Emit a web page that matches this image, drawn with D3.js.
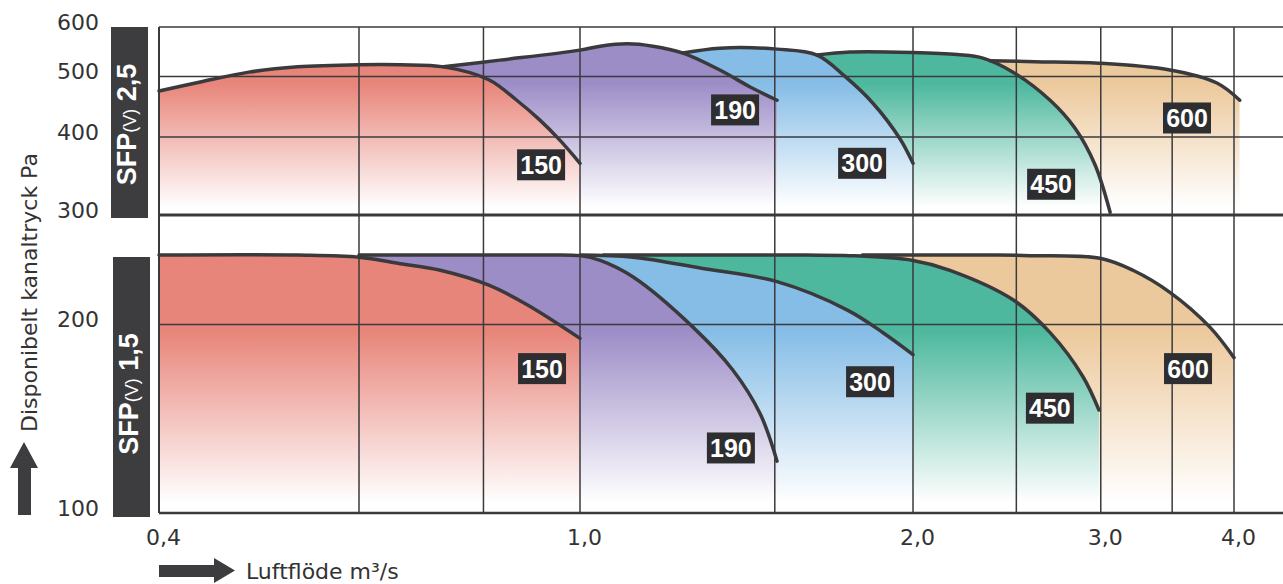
<!DOCTYPE html>
<html>
<head>
<meta charset="utf-8">
<script src="https://cdn.jsdelivr.net/npm/d3@7"></script>
<style>
  body { margin: 0; background: #fff; }
  text { font-family: "DejaVu Sans", sans-serif; }
</style>
</head>
<body>
<div id="chart"></div>
<script>
// fan sizes (curve labels)
var series = ["150", "190", "300", "450", "600"];

// curves: [flow m3/s, pressure Pa]
// upper panel, SFP(v) 2,5
var top150 = [[0.4, 474], [0.435, 490], [0.48, 508], [0.53, 518], [0.6, 522], [0.66, 522], [0.73, 518], [0.81, 494], [0.864, 458], [0.911, 426], [0.955, 395], [1.0, 363]];
var top190 = [[0.729, 518], [0.831, 531], [1.0, 551], [1.043, 559], [1.103, 564], [1.164, 559], [1.239, 545], [1.338, 512], [1.425, 481], [1.507, 458]];
var top300 = [[1.239, 545], [1.338, 555], [1.507, 553], [1.638, 541], [1.736, 500], [1.84, 453], [1.947, 397], [2.0, 363]];
var top450 = [[1.638, 541], [1.754, 547], [2.0, 546], [2.2, 542], [2.326, 535], [2.482, 508], [2.689, 458], [2.838, 413], [2.963, 361], [3.061, 303]];
var top600 = [[2.362, 530], [2.6, 528], [2.988, 525], [3.483, 512], [3.855, 488], [4.05, 458]];

// lower panel, SFP(v) 1,5
var bot150 = [[0.4, 258], [0.53, 258], [0.6, 256], [0.66, 250], [0.724, 244], [0.81, 231], [0.885, 215], [1.0, 190]];
var bot190 = [[0.6, 258], [0.9, 258], [1.0, 257.5], [1.043, 253], [1.117, 238], [1.265, 198], [1.375, 169], [1.455, 144], [1.507, 121]];
var bot300 = [[1.0, 258], [1.117, 256], [1.284, 246], [1.507, 234], [1.743, 211], [1.879, 194], [2.0, 179]];
var bot450 = [[1.05, 258], [1.6, 258], [1.754, 257.5], [2.0, 253], [2.166, 244], [2.482, 219], [2.689, 194], [2.887, 165], [2.988, 146]];
var bot600 = [[1.8, 258], [2.4, 258], [2.574, 257.5], [2.995, 255], [3.216, 244], [3.483, 225], [3.797, 198], [4.0, 177]];

// where each coloured area stops (450 in the upper panel is cut at 3,0)
var topFillMax = [1.0, 1.507, 2.0, 3.0, 4.05];
var botFillMax = [1.0, 1.507, 2.0, 2.988, 4.0];

// label boxes
var topLabelX = [0.914, 1.381, 1.799, 2.695, 3.614];
var topLabelY = [361, 442, 363, 336, 429];
var botLabelX = [0.916, 1.369, 1.829, 2.688, 3.622];
var botLabelY = [170, 127, 162, 147, 170];

// axes
var gridFlow = [0.4, 0.6, 0.8, 1, 1.5, 2, 2.5, 3, 3.5, 4];
var flowTicks = [0.4, 1, 2, 3, 4];
var topPaTicks = [300, 400, 500, 600];
var botPaTicks = [100, 200];

var colors = ["#e8857a", "#9d8dc7", "#86bde6", "#4db89e", "#ecc99c"];
var ink = "#3a3a3d";

var svgWidth = 1283;
var svgHeight = 584;

var svg = d3.select("#chart")
  .append("svg")
  .attr("width", svgWidth)
  .attr("height", svgHeight);

// the printed flow axis isn't quite logarithmic, so pin a few decades
var x = d3.scaleLog()
  .domain([0.4, 0.6, 1, 2, 4])
  .range([159, 359, 580, 913, 1234]);

var yTop = d3.scaleLog().domain([300, 600]).range([215, 27]);
var yBot = d3.scaleLog().domain([100, 260]).range([513, 253]);

var smooth = d3.curveCatmullRom.alpha(0.5);

var panels = [
  { name: "top", y: yTop, curves: [top150, top190, top300, top450, top600], fillMax: topFillMax, labX: topLabelX, labY: topLabelY },
  { name: "bot", y: yBot, curves: [bot150, bot190, bot300, bot450, bot600], fillMax: botFillMax, labX: botLabelX, labY: botLabelY }
];

var defs = svg.append("defs");

// fills, biggest fan at the back
panels.forEach(function(p) {
  var yBottom = p.y.range()[0];
  var yTopPx = p.y.range()[1];

  var area = d3.area()
    .x(d => x(d[0]))
    .y0(yBottom)
    .y1(d => p.y(d[1]))
    .curve(smooth);

  for (var i = series.length - 1; i >= 0; i--) {
    var gid = "fill-" + p.name + "-" + i;
    var grad = defs.append("linearGradient")
      .attr("id", gid)
      .attr("gradientUnits", "userSpaceOnUse")
      .attr("x1", 0).attr("x2", 0)
      .attr("y1", yTopPx).attr("y2", yBottom);
    grad.append("stop").attr("offset", 0).attr("stop-color", colors[i]);
    grad.append("stop").attr("offset", 0.3).attr("stop-color", colors[i]);
    grad.append("stop").attr("offset", 0.96).attr("stop-color", "#fff");

    var cid = "clip-" + p.name + "-" + i;
    defs.append("clipPath").attr("id", cid)
      .append("rect")
      .attr("x", 0).attr("y", 0)
      .attr("width", x(p.fillMax[i]))
      .attr("height", svgHeight);

    svg.append("path")
      .datum(p.curves[i])
      .attr("d", area)
      .attr("fill", "url(#" + gid + ")")
      .attr("clip-path", "url(#" + cid + ")");
  }
});

// grid
var gridTop = yTop(600);
var gridBottom = yBot(100);

svg.append("g").selectAll("line")
  .data(gridFlow)
  .enter()
  .append("line")
  .attr("x1", d => x(d)).attr("x2", d => x(d))
  .attr("y1", gridTop).attr("y2", gridBottom)
  .attr("stroke", ink)
  .attr("stroke-width", (d, i) => i === 0 ? 2 : 1.5);

var hLines = [
  { y: yTop(600), w: 1.5 },
  { y: yTop(500), w: 1.5 },
  { y: yTop(400), w: 1.5 },
  { y: yTop(300), w: 3 },
  { y: yBot(200), w: 1.5 },
  { y: yBot(100), w: 2.5 }
];
svg.append("g").selectAll("line")
  .data(hLines)
  .enter()
  .append("line")
  .attr("x1", x(0.4)).attr("x2", svgWidth)
  .attr("y1", d => d.y).attr("y2", d => d.y)
  .attr("stroke", ink)
  .attr("stroke-width", d => d.w);

// curves and their labels
panels.forEach(function(p) {
  var line = d3.line()
    .x(d => x(d[0]))
    .y(d => p.y(d[1]))
    .curve(smooth);

  p.curves.forEach(function(c) {
    svg.append("path")
      .attr("d", line(c))
      .attr("fill", "none")
      .attr("stroke", ink)
      .attr("stroke-width", 3.5)
      .attr("stroke-linecap", "round")
      .attr("stroke-linejoin", "round");
  });

  var labels = svg.append("g").selectAll("g")
    .data(series)
    .enter()
    .append("g")
    .attr("transform", (d, i) => `translate(${x(p.labX[i])}, ${p.y(p.labY[i])})`);

  labels.append("rect")
    .attr("x", -24).attr("y", -15.5)
    .attr("width", 48).attr("height", 31)
    .attr("fill", "#2e2e30");

  labels.append("text")
    .text(d => d)
    .attr("text-anchor", "middle")
    .attr("dy", "0.36em")
    .attr("fill", "#fff")
    .style("font-family", "'Liberation Sans', Arial, sans-serif")
    .style("font-weight", "bold")
    .style("font-size", "25px");
});

// SFP bars on the left
var bars = [
  { x: 111, y0: yTop(600), y1: yTop(300) + 3, value: "2,5" },
  { x: 113, y0: yBot(260) + 4, y1: yBot(100) + 4, value: "1,5" }
];
bars.forEach(function(b, i) {
  svg.append("rect")
    .attr("x", b.x).attr("y", b.y0)
    .attr("width", 37).attr("height", b.y1 - b.y0)
    .attr("fill", "#3d3d40");

  var cy = (b.y0 + b.y1) / 2 + (i === 0 ? 2 : 7);
  var t = svg.append("text")
    .attr("transform", `translate(${b.x + 25}, ${cy}) rotate(-90)`)
    .attr("text-anchor", "middle")
    .attr("fill", "#fff")
    .style("font-family", "'Liberation Sans', Arial, sans-serif")
    .style("font-weight", "bold")
    .style("font-size", "27px");
  t.append("tspan").text("SFP");
  t.append("tspan").text("(V)").style("font-size", "18px").style("font-weight", "normal");
  t.append("tspan").text(" " + b.value);
});

// axes
function styleAxis(g) {
  g.select(".domain").remove();
  g.attr("font-family", "'DejaVu Sans', sans-serif")
    .attr("font-size", 22)
    .style("color", "#333");
}

svg.append("g")
  .attr("transform", "translate(99, -5)")
  .call(d3.axisLeft(yTop).tickValues(topPaTicks).tickSize(0).tickPadding(0).tickFormat(d3.format("d")))
  .call(styleAxis);

svg.append("g")
  .attr("transform", "translate(99, -5)")
  .call(d3.axisLeft(yBot).tickValues(botPaTicks).tickSize(0).tickPadding(0).tickFormat(d3.format("d")))
  .call(styleAxis);

svg.append("g")
  .attr("transform", `translate(4, ${yBot(100)})`)
  .call(d3.axisBottom(x).tickValues(flowTicks).tickSize(0).tickPadding(16)
    .tickFormat(d => d3.format(".1f")(d).replace(".", ",")))
  .call(styleAxis);

// axis titles with arrows
svg.append("path")
  .attr("d", "M24,442 L38,468 L31,468 L31,515 L18,515 L18,468 L10,468 Z")
  .attr("fill", "#3d3d40");

svg.append("text")
  .attr("transform", "translate(37, 432) rotate(-90)")
  .attr("fill", "#333")
  .style("font-size", "22px")
  .text("Disponibelt kanaltryck Pa");

svg.append("path")
  .attr("d", "M159,565 L214,565 L214,558 L235,570.5 L214,583 L214,577 L159,577 Z")
  .attr("fill", "#3d3d40");

svg.append("text")
  .attr("x", 246)
  .attr("y", 579)
  .attr("fill", "#333")
  .style("font-size", "22px")
  .text("Luftflöde m³/s");
</script>
</body>
</html>
